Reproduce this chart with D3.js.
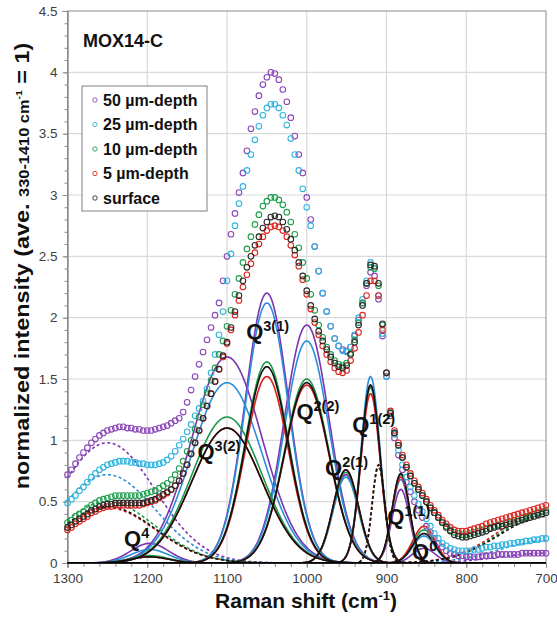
<!DOCTYPE html>
<html>
<head>
<meta charset="utf-8">
<script src="https://cdn.jsdelivr.net/npm/d3@7"></script>
<style>
body { margin: 0; background: #fff; }
svg text { font-family: "Liberation Sans", Arial, sans-serif; }
</style>
</head>
<body>
<svg id="chart" width="557" height="617"></svg>
<script>
// Raman shift sampling of the spectra (cm-1), 1300 -> 700 every 5
var shifts = d3.range(1300, 699, -5);

var xTicks = [1300, 1200, 1100, 1000, 900, 800, 700];
var yTicks = [0, 0.5, 1, 1.5, 2, 2.5, 3, 3.5, 4, 4.5];

var seriesNames = ['50 µm-depth', '25 µm-depth', '10 µm-depth', '5 µm-depth', 'surface'];

// measured spectra, one value per shift
var depth50 = [0.72,0.76,0.81,0.86,0.90,0.94,0.98,1.01,1.04,1.06,1.08,1.09,1.10,1.11,1.11,1.10,1.10,1.09,1.09,1.08,1.08,
    1.08,1.09,1.10,1.11,1.12,1.14,1.16,1.18,1.23,1.31,
    1.41,1.52,1.62,1.72,1.82,1.92,2.02,2.12,2.30,2.50,
    2.68,2.85,3.02,3.18,3.36,3.54,3.68,3.81,3.90,3.96,
    4.00,3.99,3.94,3.86,3.76,3.63,3.48,3.33,3.18,2.98,
    2.80,2.58,2.38,2.20,2.05,1.93,1.83,1.77,1.74,1.73,
    1.76,1.85,1.98,2.12,2.26,2.37,2.34,2.15,1.85,1.52,
    1.20,1.02,0.88,0.76,0.66,0.58,0.50,0.43,0.37,0.30,
    0.25,0.20,0.16,0.13,0.10,0.08,0.07,0.06,0.06,0.05,
    0.05,0.05,0.05,0.06,0.06,0.06,0.06,0.07,0.07,0.07,
    0.07,0.07,0.07,0.08,0.08,0.08,0.08,0.08,0.08,0.08];

var depth25 = [0.49,0.52,0.55,0.59,0.62,0.66,0.70,0.73,0.76,0.78,0.80,0.81,0.82,0.83,0.83,0.83,0.82,0.82,0.81,0.81,0.80,
    0.80,0.80,0.81,0.82,0.84,0.87,0.91,0.96,1.01,1.07,
    1.13,1.20,1.26,1.32,1.42,1.55,1.70,1.86,2.05,2.30,
    2.52,2.75,2.93,3.07,3.20,3.33,3.45,3.56,3.65,3.71,
    3.74,3.74,3.71,3.65,3.57,3.46,3.33,3.20,3.05,2.90,
    2.75,2.58,2.38,2.20,2.05,1.93,1.83,1.77,1.73,1.72,
    1.76,1.86,2.00,2.15,2.30,2.45,2.40,2.18,1.87,1.52,
    1.22,1.05,0.92,0.80,0.70,0.62,0.55,0.48,0.42,0.36,
    0.30,0.24,0.20,0.16,0.14,0.12,0.11,0.10,0.10,0.10,
    0.10,0.11,0.11,0.12,0.13,0.13,0.14,0.14,0.15,0.15,
    0.16,0.16,0.17,0.17,0.18,0.18,0.19,0.19,0.20,0.20];

var depth10 = [0.33,0.35,0.38,0.40,0.42,0.45,0.47,0.49,0.51,0.52,0.53,0.54,0.55,0.55,0.55,0.55,0.55,0.55,0.55,0.56,0.57,
    0.58,0.59,0.61,0.63,0.65,0.68,0.72,0.77,0.83,0.91,
    1.00,1.09,1.19,1.29,1.39,1.49,1.59,1.70,1.81,1.93,
    2.06,2.19,2.32,2.45,2.56,2.66,2.76,2.84,2.91,2.95,
    2.98,2.98,2.96,2.92,2.86,2.78,2.68,2.57,2.45,2.32,
    2.19,2.06,1.94,1.84,1.76,1.70,1.65,1.62,1.61,1.63,
    1.71,1.82,1.96,2.12,2.28,2.41,2.40,2.26,1.94,1.55,
    1.23,1.06,0.96,0.86,0.78,0.71,0.65,0.60,0.55,0.50,
    0.45,0.41,0.37,0.33,0.30,0.27,0.25,0.24,0.23,0.23,
    0.24,0.25,0.26,0.27,0.28,0.29,0.30,0.31,0.32,0.33,
    0.34,0.35,0.36,0.37,0.38,0.39,0.40,0.41,0.42,0.43];

var depth5 = [0.27,0.29,0.32,0.34,0.36,0.38,0.41,0.42,0.44,0.45,0.46,0.46,0.47,0.47,0.47,0.47,0.47,0.47,0.47,0.48,0.49,
    0.50,0.51,0.53,0.55,0.57,0.60,0.63,0.67,0.73,0.80,
    0.89,0.98,1.08,1.18,1.28,1.38,1.48,1.58,1.68,1.79,
    1.90,2.02,2.14,2.25,2.35,2.44,2.53,2.60,2.66,2.71,
    2.74,2.75,2.74,2.71,2.66,2.59,2.51,2.42,2.31,2.19,
    2.07,1.96,1.86,1.77,1.70,1.64,1.59,1.56,1.55,1.57,
    1.65,1.75,1.88,2.02,2.18,2.30,2.30,2.18,1.90,1.55,
    1.24,1.08,0.98,0.88,0.80,0.73,0.67,0.62,0.57,0.52,
    0.47,0.43,0.39,0.35,0.32,0.29,0.27,0.26,0.26,0.26,
    0.27,0.28,0.29,0.30,0.32,0.33,0.34,0.35,0.36,0.37,
    0.38,0.39,0.40,0.41,0.42,0.43,0.44,0.45,0.46,0.47];

var surface = [0.29,0.31,0.34,0.36,0.38,0.40,0.43,0.44,0.46,0.47,0.48,0.48,0.49,0.49,0.49,0.49,0.49,0.49,0.49,0.49,0.50,
    0.51,0.52,0.54,0.56,0.58,0.60,0.63,0.67,0.73,0.80,
    0.89,0.98,1.08,1.18,1.28,1.38,1.48,1.58,1.69,1.80,
    1.92,2.05,2.18,2.30,2.41,2.50,2.59,2.66,2.73,2.78,
    2.82,2.83,2.82,2.78,2.72,2.64,2.55,2.45,2.34,2.22,
    2.10,1.99,1.89,1.81,1.74,1.68,1.63,1.60,1.59,1.61,
    1.70,1.80,1.94,2.10,2.28,2.43,2.42,2.28,1.95,1.55,
    1.22,1.06,0.96,0.86,0.78,0.71,0.65,0.60,0.55,0.50,
    0.45,0.41,0.37,0.33,0.29,0.26,0.23,0.22,0.21,0.21,
    0.22,0.23,0.24,0.25,0.26,0.28,0.29,0.30,0.30,0.31,
    0.32,0.33,0.34,0.35,0.36,0.37,0.38,0.39,0.40,0.41];

// fitted gaussian bands: centre, sigma (cm-1), dashed or not
var bandCentres = [1250, 1197, 1100, 1050, 1000, 951, 920, 910, 882, 853, 700];
var bandSigmas  = [60, 24, 44, 27, 28, 16, 12, 8, 11, 14, 58];
var bandDashed  = [true, false, false, false, false, false, false, true, false, false, true];

// band heights for each sample
var amp50 = [0.98, 0.16, 1.68, 2.20, 1.94, 0.72, 1.45, 0, 0.60, 0.12, 0.08];
var amp25 = [0.72, 0.11, 1.47, 2.12, 1.81, 0.70, 1.52, 0, 0.68, 0.22, 0.18];
var amp10 = [0.50, 0.06, 1.19, 1.64, 1.50, 0.74, 1.43, 0.78, 0.72, 0.27, 0.40];
var amp5  = [0.45, 0.05, 1.10, 1.52, 1.45, 0.76, 1.38, 0.80, 0.70, 0.30, 0.43];
var ampSurface = [0.46, 0.05, 1.10, 1.60, 1.47, 0.76, 1.45, 0.80, 0.73, 0.24, 0.38];

// band labels: superscript, anchor in data units
var labelNames = ['4', '3(2)', '3(1)', '2(2)', '2(1)', '1(2)', '1(1)', '0'];
var labelShift = [1229, 1137, 1076, 1013, 977, 943, 899, 868];
var labelValue = [0.14, 0.85, 1.83, 1.17, 0.72, 1.07, 0.32, 0.03];

var series = [
    {name: seriesNames[0], values: depth50, amps: amp50, color: '#8a45b8', line: '#7b35b0'},
    {name: seriesNames[1], values: depth25, amps: amp25, color: '#2fb4e0', line: '#2b8ed8'},
    {name: seriesNames[2], values: depth10, amps: amp10, color: '#1f9e4c', line: '#1a9a48'},
    {name: seriesNames[3], values: depth5, amps: amp5, color: '#e0231e', line: '#d8201c'},
    {name: seriesNames[4], values: surface, amps: ampSurface, color: '#2a2a2a', line: '#111111'}
];

var svg = d3.select('#chart');

var x = d3.scaleLinear().domain([1300, 700]).range([67.5, 546]);
var y = d3.scaleLinear().domain([0, 4.5]).range([563, 11]);

svg.append('defs').append('clipPath').attr('id', 'plotclip')
    .append('rect')
    .attr('x', x(1300)).attr('y', y(4.5))
    .attr('width', x(700) - x(1300)).attr('height', y(0) - y(4.5));

// grid
var grid = svg.append('g').attr('class', 'grid');
grid.selectAll('.vgrid').data(xTicks.slice(1, -1)).enter().append('line')
    .attr('x1', function(d) { return x(d); })
    .attr('x2', function(d) { return x(d); })
    .attr('y1', y(0)).attr('y2', y(4.5))
    .attr('stroke', '#d9d9d9').attr('stroke-width', 1.2);
grid.selectAll('.hgrid').data(yTicks.slice(1, -1)).enter().append('line')
    .attr('x1', x(1300)).attr('x2', x(700))
    .attr('y1', function(d) { return y(d); })
    .attr('y2', function(d) { return y(d); })
    .attr('stroke', '#d9d9d9').attr('stroke-width', 1.2);

// frame
svg.append('rect')
    .attr('x', x(1300)).attr('y', y(4.5))
    .attr('width', x(700) - x(1300)).attr('height', y(0) - y(4.5))
    .attr('fill', 'none').attr('stroke', '#8c8c8c').attr('stroke-width', 1);

// axes, minor ticks first
var minorX = svg.append('g').attr('transform', 'translate(0,' + y(0) + ')')
    .call(d3.axisBottom(x).tickValues(d3.range(1300, 699, -20)).tickSize(4).tickFormat(''));
var minorY = svg.append('g').attr('transform', 'translate(' + x(1300) + ',0)')
    .call(d3.axisLeft(y).tickValues(d3.range(0, 4.51, 0.1)).tickSize(3).tickFormat(''));

var xAxis = svg.append('g').attr('transform', 'translate(0,' + y(0) + ')')
    .call(d3.axisBottom(x).tickValues(xTicks).tickSize(5).tickPadding(5).tickFormat(d3.format('d')));
var yAxis = svg.append('g').attr('transform', 'translate(' + x(1300) + ',0)')
    .call(d3.axisLeft(y).tickValues(yTicks).tickSize(5).tickPadding(5).tickFormat(function(d) { return String(d); }));

[minorX, minorY, xAxis, yAxis].forEach(function(g) {
    g.select('.domain').attr('stroke', '#8c8c8c');
    g.selectAll('.tick line').attr('stroke', '#8c8c8c');
    g.selectAll('text').attr('font-size', 13.5).attr('fill', '#404040')
        .style('font-family', '"Liberation Sans", Arial, sans-serif');
});

// fitted bands, drawn underneath the measured points
var fine = d3.range(1300, 699, -1);
var bandLine = d3.line()
    .x(function(d) { return x(d[0]); })
    .y(function(d) { return y(d[1]); });

var bands = svg.append('g').attr('clip-path', 'url(#plotclip)');
series.forEach(function(s) {
    s.amps.forEach(function(a, k) {
        if (!a) return;
        var pts = fine.map(function(v) {
            var dv = v - bandCentres[k];
            return [v, a * Math.exp(-dv * dv / (2 * bandSigmas[k] * bandSigmas[k]))];
        });
        bands.append('path')
            .datum(pts)
            .attr('d', bandLine)
            .attr('fill', 'none')
            .attr('stroke', s.line)
            .attr('stroke-width', 1.6)
            .attr('stroke-dasharray', bandDashed[k] ? '3,2.5' : null);
    });
});

// measured spectra as open circles
var points = svg.append('g');
series.forEach(function(s) {
    points.append('g').selectAll('circle')
        .data(s.values)
        .enter().append('circle')
        .attr('cx', function(d, i) { return x(shifts[i]); })
        .attr('cy', function(d) { return y(d); })
        .attr('r', 2.8)
        .attr('fill', 'none')
        .attr('stroke', s.color)
        .attr('stroke-width', 1.1);
});

// zero line
svg.append('line')
    .attr('x1', x(1300)).attr('x2', x(700))
    .attr('y1', y(0)).attr('y2', y(0))
    .attr('stroke', '#000').attr('stroke-width', 1.6);

// band labels
var labels = svg.append('g');
labelNames.forEach(function(n, i) {
    var t = labels.append('text')
        .attr('x', x(labelShift[i]))
        .attr('y', y(labelValue[i]))
        .attr('font-size', 22).attr('font-weight', 'bold').attr('fill', '#111');
    t.append('tspan').text('Q');
    t.append('tspan').attr('font-size', 14.5).attr('dy', -8).text(n);
});

// sample name
svg.append('text')
    .attr('x', 83).attr('y', 47)
    .attr('font-size', 18).attr('font-weight', 'bold').attr('fill', '#111')
    .text('MOX14-C');

// legend
var legend = svg.append('g').attr('transform', 'translate(82,86)');
legend.append('rect')
    .attr('width', 125).attr('height', 125)
    .attr('fill', '#fff').attr('stroke', '#808080').attr('stroke-width', 1);
series.forEach(function(s, i) {
    var row = legend.append('g').attr('transform', 'translate(0,' + (14 + i * 24.5) + ')');
    row.append('circle')
        .attr('cx', 13).attr('cy', 0).attr('r', 2.2)
        .attr('fill', 'none').attr('stroke', s.color).attr('stroke-width', 0.9);
    row.append('text')
        .attr('x', 21).attr('y', 5.5)
        .attr('font-size', 16).attr('font-weight', 'bold').attr('fill', '#111')
        .text(s.name);
});

// axis titles
var xTitle = svg.append('text')
    .attr('x', 306).attr('y', 608)
    .attr('text-anchor', 'middle')
    .attr('font-size', 21).attr('font-weight', 'bold').attr('fill', '#111');
xTitle.append('tspan').text('Raman shift (cm');
xTitle.append('tspan').attr('font-size', 13).attr('dy', -8).text('-1');
xTitle.append('tspan').attr('dy', 8).text(')');

// the printed title is stretched along its length, hence the scale
var yTitle = svg.append('text')
    .attr('transform', 'translate(29,266) rotate(-90) scale(1.17,1)')
    .attr('text-anchor', 'middle')
    .attr('font-size', 20).attr('font-weight', 'bold').attr('fill', '#111');
yTitle.append('tspan').text('normalized intensity (ave. ');
yTitle.append('tspan').attr('font-size', 14).text('330-1410 cm');
yTitle.append('tspan').attr('font-size', 9).attr('dy', -7).text('-1');
yTitle.append('tspan').attr('dy', 7).text(' = 1)');
</script>
</body>
</html>
